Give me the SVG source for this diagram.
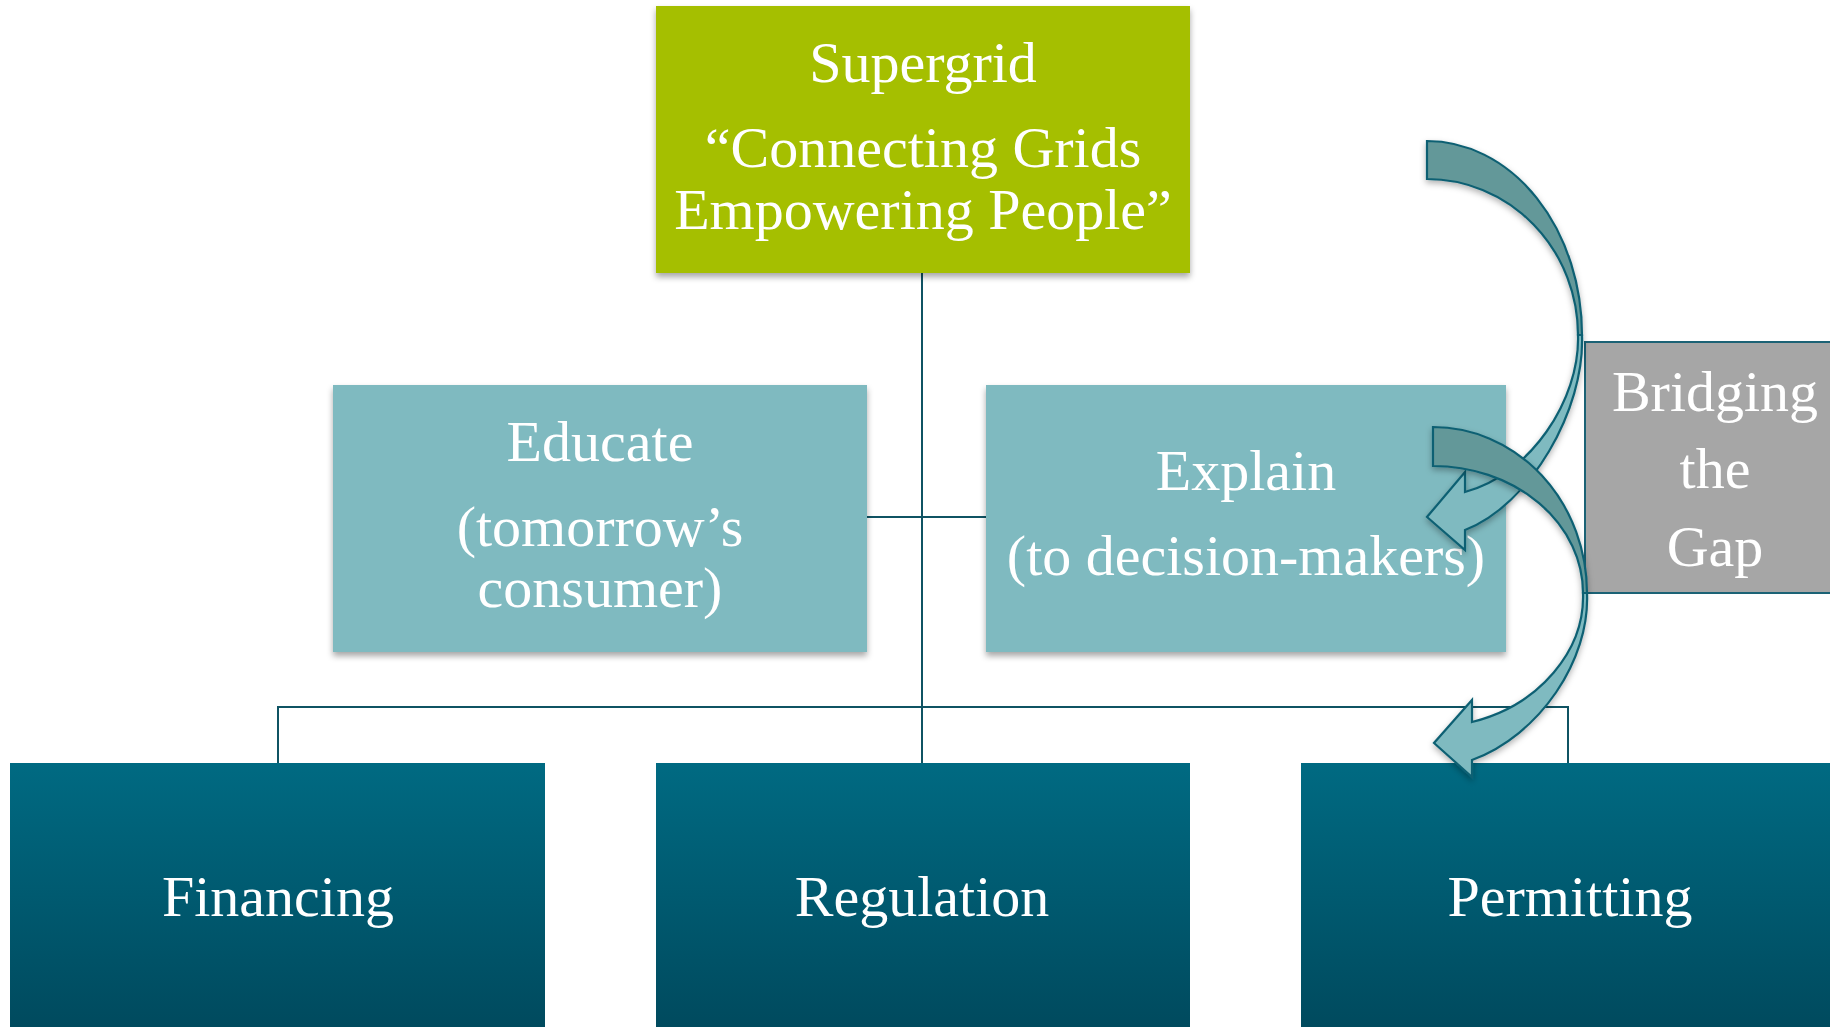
<svg xmlns="http://www.w3.org/2000/svg" width="1830" height="1027" viewBox="0 0 1830 1027">
  <style>
    .t { font-family: "Liberation Serif", "Times New Roman", serif; fill: #ffffff; text-anchor: middle; font-size: 58px; }
    .conn { stroke: #0F5363; stroke-width: 2; fill: none; }
    .arrow { stroke: #0E6073; stroke-width: 2.2; stroke-linejoin: miter; }
    .back { fill: #649899; }
    .front { fill: #7FBAC0; }
  </style>
  <defs>
    <linearGradient id="bottomGrad" x1="0" y1="0" x2="0" y2="1">
      <stop offset="0" stop-color="#006A82"/>
      <stop offset="1" stop-color="#004A5E"/>
    </linearGradient>
    <filter id="shadow" x="-10%" y="-10%" width="120%" height="130%">
      <feDropShadow dx="0" dy="4" stdDeviation="3" flood-color="#000000" flood-opacity="0.35"/>
    </filter>
    <filter id="ashadow" x="-20%" y="-20%" width="140%" height="140%">
      <feDropShadow dx="0" dy="3" stdDeviation="3" flood-color="#000000" flood-opacity="0.3"/>
    </filter>
  </defs>

  <rect width="1830" height="1027" fill="#ffffff"/>

  <g id="connectors">
    <line class="conn" x1="922" y1="273" x2="922" y2="763"/>
    <line class="conn" x1="866" y1="517" x2="986" y2="517"/>
    <polyline class="conn" points="278,763 278,707 1568,707 1568,763"/>
  </g>

  <g id="node-supergrid">
    <rect x="656" y="6" width="534" height="267" fill="#A5BF00" filter="url(#shadow)"/>
    <text class="t" x="923" y="82" font-size="59">Supergrid</text>
    <text class="t" x="923" y="167" font-size="59">“Connecting Grids</text>
    <text class="t" x="923" y="229" font-size="59">Empowering People”</text>
  </g>

  <g id="node-educate">
    <rect x="333" y="385" width="534" height="267" fill="#7FBAC0" filter="url(#shadow)"/>
    <text class="t" x="600" y="461">Educate</text>
    <text class="t" x="600" y="546">(tomorrow’s</text>
    <text class="t" x="600" y="607">consumer)</text>
  </g>

  <g id="node-explain">
    <rect x="986" y="385" width="520" height="267" fill="#7FBAC0" filter="url(#shadow)"/>
    <text class="t" x="1246" y="490">Explain</text>
    <text class="t" x="1246" y="575">(to decision-makers)</text>
  </g>

  <g id="node-bridging">
    <rect x="1585" y="342" width="260" height="251" fill="#A6A6A6" stroke="#1B6275" stroke-width="2"/>
    <text class="t" x="1715" y="411" font-size="59">Bridging</text>
    <text class="t" x="1715" y="488" font-size="59">the</text>
    <text class="t" x="1715" y="566" font-size="59">Gap</text>
  </g>

  <g id="node-financing">
    <rect x="10" y="763" width="535" height="264" fill="url(#bottomGrad)"/>
    <text class="t" x="278" y="916">Financing</text>
  </g>

  <g id="node-regulation">
    <rect x="656" y="763" width="534" height="264" fill="url(#bottomGrad)"/>
    <text class="t" x="922" y="916">Regulation</text>
  </g>

  <g id="node-permitting">
    <rect x="1301" y="763" width="540" height="264" fill="url(#bottomGrad)"/>
    <text class="t" x="1570" y="916">Permitting</text>
  </g>

  <g id="arrow-1" filter="url(#ashadow)">
    <path class="arrow back" d="M1427,141 A155,194 0 0 1 1582,335 L1578,335 A151,156 0 0 0 1427,179 Z"/>
    <path class="arrow front" d="M1578,335 C1580,400 1530,475 1465,492 L1465,472 L1427,517 L1465,550 L1465,530 C1530,505 1585,410 1582,335 Z"/>
  </g>

  <g id="arrow-2" filter="url(#ashadow)">
    <path class="arrow back" d="M1433,427 A154,166 0 0 1 1587,593 L1583,593 A150,127 0 0 0 1433,466 Z"/>
    <path class="arrow front" d="M1583,593 C1585,650 1540,705 1472,722 L1472,700 L1434,743 L1472,777 L1472,760 C1540,735 1590,660 1587,593 Z"/>
  </g>
</svg>
